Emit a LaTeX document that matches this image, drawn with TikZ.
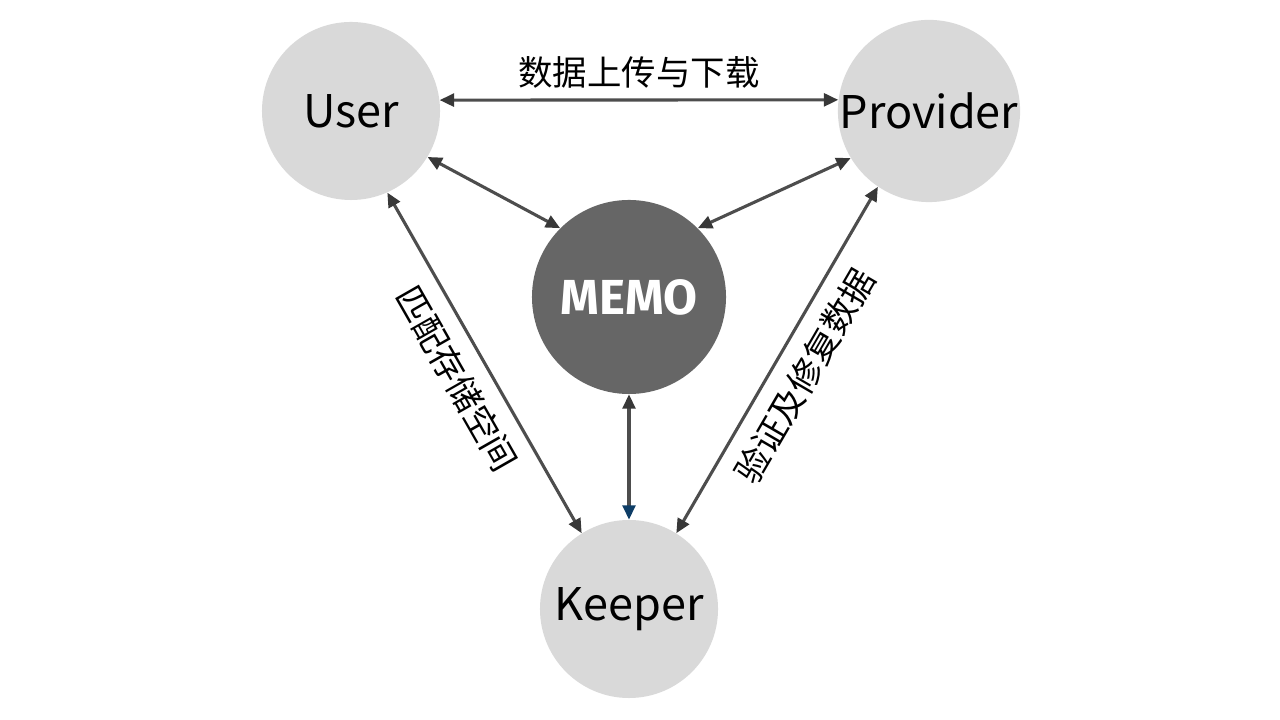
\documentclass[tikz,border=0pt]{standalone}
\usepackage{fontspec}
\setmainfont{Noto Sans CJK SC}
\newfontfamily\memofont{Fira Sans}
\usetikzlibrary{arrows.meta}

\definecolor{nodegray}{HTML}{D9D9D9}
\definecolor{coregray}{HTML}{666666}
\definecolor{linkgray}{HTML}{4D4D4D}
\definecolor{tipgray}{HTML}{383838}
\definecolor{tipblue}{RGB}{14,61,102}

\tikzset{
    party/.style={circle, fill=nodegray, inner sep=0pt, minimum size=4.45cm,
                  font=\fontsize{32}{38}\selectfont},
    core/.style={circle, fill=coregray, inner sep=0pt, minimum size=4.85cm,
                 text=white, font=\memofont\bfseries\fontsize{35}{42}\selectfont},
    link/.style={draw=linkgray, line width=2.2pt,
                 {Triangle[length=0.36cm,width=0.32cm,color=tipgray]}-{Triangle[length=0.36cm,width=0.32cm,color=tipgray]}},
    tag/.style={font=\fontsize{24.5}{28}\selectfont, inner sep=4pt}
}

\begin{document}
\begin{tikzpicture}[x=0.025cm, y=0.025cm]
        % Page frame
        \useasboundingbox (0,0) rectangle (1280,720);

        % Define the participants
        \node[party] (user) at (351,609) {User};
        \node[party] (provider) at (929,609) {Provider};
        \node[core] (memo) at (629,423) {MEMO};
        \node[party] (keeper) at (629,111) {Keeper};

        % Draw the links between participants
        \draw[link] (user.7) -- (provider.173)
            node[midway, above, tag, inner sep=7pt] {数据上传与下载};
        \draw[link] (user.-31) -- (memo.135);
        \draw[link] (provider.211) -- (memo.45);
        \draw[link] (user.-66) -- (keeper.122)
            node[midway, sloped, below, tag, inner sep=10pt] {匹配存储空间};
        \draw[link] (provider.236) -- (keeper.58)
            node[midway, sloped, below, tag, inner sep=10pt] {验证及修复数据};

        % Link to the keeper, lower tip in blue
        \draw[draw=linkgray, line width=2.2pt,
              {Triangle[length=0.36cm,width=0.32cm,color=tipgray]}-{Triangle[length=0.36cm,width=0.32cm,color=tipblue]}]
            (memo.south) -- (keeper.north);

    \end{tikzpicture}
\end{document}
